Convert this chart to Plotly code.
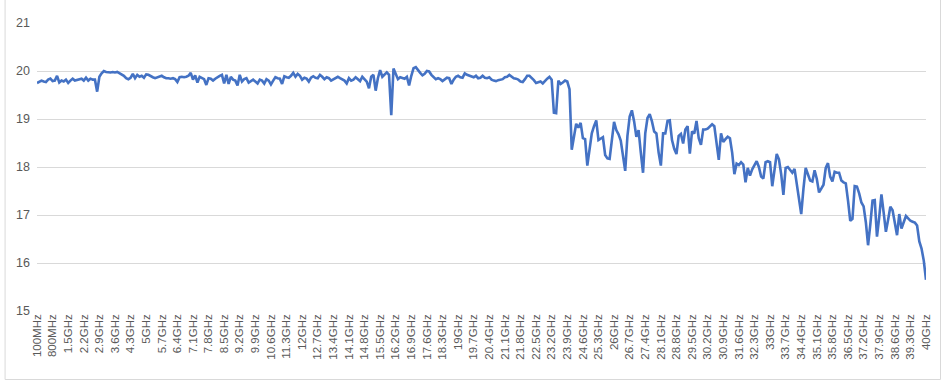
import plotly.graph_objects as go

# Frequency sweep: 100 MHz to 40 GHz, 100 MHz step (400 points)
freq_mhz = list(range(100, 40001, 100))

def freq_label(m):
    if m < 1000:
        return f"{m}MHz"
    g = m / 1000
    s = f"{g:.1f}".rstrip("0").rstrip(".")
    return f"{s}GHz"

categories = [freq_label(m) for m in freq_mhz]

tick_labels = ["100MHz", "800MHz", "1.5GHz", "2.2GHz", "2.9GHz", "3.6GHz", "4.3GHz", "5GHz",
               "5.7GHz", "6.4GHz", "7.1GHz", "7.8GHz", "8.5GHz", "9.2GHz", "9.9GHz", "10.6GHz",
               "11.3GHz", "12GHz", "12.7GHz", "13.4GHz", "14.1GHz", "14.8GHz", "15.5GHz", "16.2GHz",
               "16.9GHz", "17.6GHz", "18.3GHz", "19GHz", "19.7GHz", "20.4GHz", "21.1GHz", "21.8GHz",
               "22.5GHz", "23.2GHz", "23.9GHz", "24.6GHz", "25.3GHz", "26GHz", "26.7GHz", "27.4GHz",
               "28.1GHz", "28.8GHz", "29.5GHz", "30.2GHz", "30.9GHz", "31.6GHz", "32.3GHz", "33GHz",
               "33.7GHz", "34.4GHz", "35.1GHz", "35.8GHz", "36.5GHz", "37.2GHz", "37.9GHz", "38.6GHz",
               "39.3GHz", "40GHz"]

# Values (0.1 - 10 GHz)
values_a = [
    19.75, 19.78, 19.80, 19.78, 19.77, 19.82, 19.84, 19.79, 19.80, 19.90,
    19.76, 19.80, 19.78, 19.82, 19.75, 19.80, 19.84, 19.80, 19.81, 19.83,
    19.84, 19.80, 19.86, 19.80, 19.84, 19.82, 19.82, 19.57, 19.88, 19.95,
    20.00, 19.98, 19.97, 19.97, 19.98, 19.97, 19.98, 19.95, 19.93, 19.90,
    19.85, 19.83, 19.86, 19.94, 19.85, 19.92, 19.88, 19.90, 19.86, 19.93,
    19.92, 19.89, 19.87, 19.85, 19.87, 19.89, 19.90, 19.87, 19.85, 19.85,
    19.84, 19.85, 19.83, 19.77, 19.87, 19.88, 19.87, 19.88, 19.90, 19.96,
    19.82, 19.91, 19.76, 19.88, 19.85, 19.83, 19.71, 19.85, 19.84, 19.80,
    19.84, 19.88, 19.90, 19.92, 19.74, 19.92, 19.73, 19.88, 19.82, 19.80,
    19.70, 19.92, 19.78, 19.83, 19.85, 19.76, 19.80, 19.82, 19.78, 19.74,
]
# Values (10.1 - 20 GHz)
values_b = [
    19.82, 19.80, 19.74, 19.83, 19.80, 19.72, 19.80, 19.87, 19.85, 19.84,
    19.73, 19.89, 19.87, 19.86, 19.90, 19.96, 19.88, 19.94, 19.90, 19.82,
    19.86, 19.84, 19.78, 19.86, 19.89, 19.86, 19.85, 19.92, 19.88, 19.83,
    19.87, 19.85, 19.80, 19.83, 19.85, 19.88, 19.85, 19.82, 19.80, 19.74,
    19.85, 19.80, 19.82, 19.87, 19.82, 19.79, 19.88, 19.84, 19.78, 19.64,
    19.88, 19.92, 19.59, 19.85, 20.02, 19.88, 19.92, 19.97, 19.92, 19.08,
    20.05, 19.93, 19.83, 19.87, 19.85, 19.84, 19.88, 19.70, 19.90, 20.06,
    20.08, 20.01, 19.96, 19.91, 19.94, 20.00, 19.99, 19.92, 19.87, 19.83,
    19.85, 19.83, 19.79, 19.83, 19.86, 19.85, 19.73, 19.82, 19.88, 19.90,
    19.87, 19.86, 19.95, 19.92, 19.90, 19.88, 19.87, 19.90, 19.85, 19.86,
]
# Values (20.1 - 30 GHz)
values_c = [
    19.90, 19.86, 19.85, 19.87, 19.82, 19.80, 19.79, 19.81, 19.82, 19.83,
    19.87, 19.88, 19.92, 19.88, 19.85, 19.84, 19.82, 19.78, 19.77, 19.83,
    19.90, 19.90, 19.86, 19.81, 19.75, 19.77, 19.78, 19.74, 19.80, 19.84,
    19.88, 19.82, 19.13, 19.12, 19.80, 19.73, 19.76, 19.80, 19.78, 19.62,
    18.36, 18.62, 18.90, 18.82, 18.92, 18.60, 18.58, 18.03, 18.35, 18.70,
    18.85, 18.97, 18.56, 18.60, 18.62, 18.25, 18.18, 18.17, 18.62, 18.94,
    18.77, 18.68, 18.55, 18.20, 17.92, 18.65, 19.05, 19.18, 18.95, 18.63,
    18.77, 18.30, 17.88, 18.70, 19.02, 19.10, 18.95, 18.74, 18.70, 18.30,
    18.03, 18.70, 18.70, 18.96, 18.97, 18.56, 18.38, 18.27, 18.65, 18.69,
    18.49, 18.78, 18.85, 18.28, 18.74, 18.70, 18.96, 18.60, 18.46, 18.78,
]
# Values (30.1 - 40 GHz)
values_d = [
    18.78, 18.80, 18.85, 18.89, 18.85, 18.50, 18.15, 18.70, 18.52, 18.58,
    18.63, 18.60, 18.30, 17.85, 18.07, 18.04, 18.10, 18.05, 17.68, 17.98,
    17.82, 17.95, 18.03, 18.12, 18.00, 17.80, 17.76, 18.10, 18.12, 18.10,
    17.60, 18.00, 18.27, 18.16, 17.85, 17.42, 17.98, 18.00, 17.95, 17.88,
    17.96, 17.65, 17.25, 17.02, 17.55, 17.98, 17.85, 17.72, 17.70, 17.93,
    17.75, 17.47, 17.55, 17.63, 17.98, 18.08, 17.80, 17.70, 17.90, 17.88,
    17.88, 17.72, 17.68, 17.66, 17.30, 16.88, 16.92, 17.60, 17.59, 17.45,
    17.26, 17.18, 16.85, 16.37, 16.80, 17.30, 17.31, 16.55, 16.95, 17.43,
    17.05, 16.65, 16.90, 17.17, 17.10, 16.85, 16.58, 17.02, 16.72, 16.85,
    16.98, 16.93, 16.88, 16.86, 16.84, 16.78, 16.45, 16.30, 16.05, 15.65,
]

values = values_a + values_b + values_c + values_d

y_ticks = [15, 16, 17, 18, 19, 20, 21]

fig = go.Figure()
fig.add_trace(go.Scatter(
    x=categories, y=values, mode="lines",
    line=dict(color="#4472C4", width=2.6),
    hoverinfo="x+y",
))

font_family = "Liberation Sans, Arial, sans-serif"

fig.update_layout(
    width=949, height=385,
    margin=dict(l=37, r=23, t=23, b=74),
    paper_bgcolor="white", plot_bgcolor="white",
    showlegend=False,
    font=dict(family=font_family, color="#595959"),
    xaxis=dict(
        type="category",
        categoryorder="array", categoryarray=categories,
        range=[0, len(categories) - 1],
        tickmode="array", tickvals=tick_labels, ticktext=tick_labels,
        tickangle=-90,
        tickfont=dict(size=11.5, color="#595959", family=font_family),
        showgrid=False, zeroline=False, showline=False, ticks="",
        automargin=False,
    ),
    yaxis=dict(
        range=[15, 21], tickmode="array", tickvals=y_ticks,
        tickfont=dict(size=12.5, color="#595959", family=font_family),
        showgrid=True, gridcolor="#d9d9d9", gridwidth=1,
        zeroline=False, showline=False, ticks="",
        ticklabelstandoff=6, automargin=False,
    ),
    shapes=[dict(
        type="rect", xref="paper", yref="paper",
        x0=-0.0359, x1=1.0163, y0=-0.2378, y1=1.09,
        line=dict(color="#d9d9d9", width=1), fillcolor="rgba(0,0,0,0)",
        layer="below",
    )],
)

fig.write_html("out.html", config={"displayModeBar": False},
               post_script="document.body.style.margin='0px';")
